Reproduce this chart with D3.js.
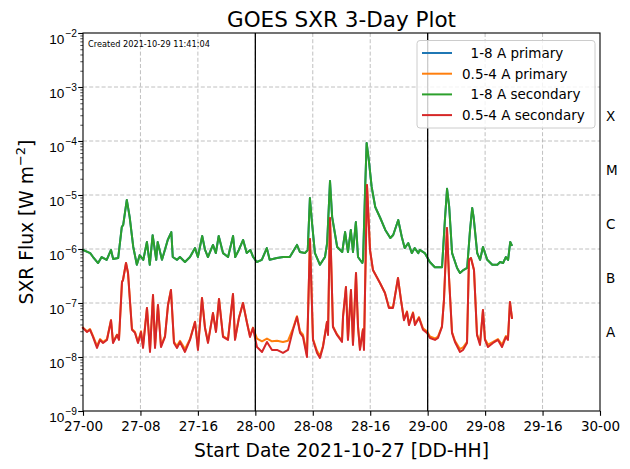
<!DOCTYPE html>
<html>
<head>
<meta charset="utf-8">
<script src="https://cdn.jsdelivr.net/npm/d3@7"></script>
<style>
    body { margin: 0; background: #fff; }
    svg { display: block; font-family: "DejaVu Sans", sans-serif; }
</style>
</head>
<body>
<svg id="chart" width="630" height="469"></svg>
<script>
// hours since 2021-10-27 00:00 UT
const timeLong = [0.0,1.0,1.4,2.1,2.6,3.3,3.9,4.2,4.9,5.4,
    5.6,6.1,6.5,7.0,7.5,7.9,8.4,8.9,9.3,9.7,
    10.2,10.4,11.0,11.4,11.8,12.3,12.5,13.1,13.5,14.2,
    14.9,15.6,16.0,16.6,17.0,17.4,18.1,18.5,18.9,19.5,
    20.2,20.9,21.2,21.7,22.3,22.8,23.3,23.7,24.2,24.9,
    25.6,26.0,27.0,27.9,28.8,29.8,30.2,30.9,31.3,31.6,
    31.9,32.3,33.0,33.7,34.0,34.4,34.7,35.4,36.1,36.5,
    36.9,37.3,37.6,38.0,38.3,38.9,39.0,39.3,39.5,39.8,
    40.2,40.7,41.4,42.1,42.8,43.2,43.9,44.4,44.8,45.3,
    45.8,46.2,46.7,46.9,47.6,48.3,49.0,50.0,50.4,50.7,
    51.0,51.4,52.1,52.5,52.9,53.5,53.9,54.2,54.4,54.9,
    55.3,55.7,56.3,57.0,57.7,58.1,58.5,58.9,59.2,59.5,59.7];

// 1-8 A channel, W m^-2
const fluxLongSecondary = [9.6e-7,8.4e-7,7.1e-7,5.5e-7,7.1e-7,6.3e-7,9.6e-7,6.5e-7,6.8e-7,2.55e-6,
    2.8e-6,8.1e-6,3.9e-6,1.09e-6,5.1e-7,7.7e-7,6.3e-7,1.35e-6,5.1e-7,1.8e-6,
    6.3e-7,1.35e-6,6.3e-7,9.6e-7,1.47e-6,2.06e-6,7.1e-7,6.3e-7,7.1e-7,5.75e-7,
    7.1e-7,1.04e-6,7.1e-7,1.74e-6,9.6e-7,7.1e-7,1.19e-6,8.4e-7,1.74e-6,8.4e-7,
    7.1e-7,1.74e-6,7.1e-7,9.6e-7,1.47e-6,8.4e-7,9.6e-7,7.1e-7,5.75e-7,6.3e-7,
    1.04e-6,6.3e-7,6.8e-7,7.1e-7,7.1e-7,1.19e-6,8.8e-7,8.4e-7,9.6e-7,8.8e-6,
    3.0e-6,8.4e-7,5.1e-7,7.1e-7,1.29e-6,1.82e-5,3.9e-6,1.09e-6,8.8e-7,2.06e-6,
    8.8e-7,2.25e-6,8.8e-7,3.16e-6,7.1e-7,5.5e-7,6.3e-7,1.41e-5,9.2e-5,4.45e-5,
    1.41e-5,6.0e-6,3.75e-6,2.25e-6,1.6e-6,1.82e-6,3.44e-6,1.67e-6,1.04e-6,1.29e-6,
    8.4e-7,1.04e-6,8.4e-7,9.6e-7,8.4e-7,5.75e-7,4.6e-7,4.6e-7,3.44e-6,1.3e-5,
    6.0e-6,8.4e-7,4.45e-7,3.6e-7,4.0e-7,4.45e-7,2.25e-6,5.75e-6,3.9e-6,8.4e-7,
    6.3e-7,1.09e-6,6.3e-7,5.1e-7,5.1e-7,5.75e-7,5.5e-7,7.1e-7,6.3e-7,1.35e-6,1.19e-6];
// primary 1-8 A reads the same as secondary on the plot
const fluxLongPrimary = fluxLongSecondary;

const timeShort = [0,0.56,0.97,1.39,1.95,2.37,2.79,3.34,3.9,4.18,
    4.74,5.01,5.43,5.57,5.99,6.27,6.82,7.24,7.66,8.08,
    8.36,8.91,9.33,9.75,10.03,10.44,10.86,11.42,11.84,12.25,
    12.67,13.09,13.51,14.2,14.9,15.6,16.01,16.57,16.99,17.41,
    18.1,18.52,18.94,19.5,20.19,20.89,21.17,21.72,22.28,22.84,
    23.26,23.67,24.23,24.93,25.62,26.32,27.02,27.85,28.55,29.25,
    29.8,30.22,30.64,31.19,31.61,32.03,32.59,33.0,33.42,33.98,
    34.12,34.4,34.81,35.37,36.07,36.21,36.62,36.9,37.32,37.6,
    38.02,38.3,38.57,38.99,39.13,39.55,39.97,40.38,41.36,42.05,
    42.61,43.17,43.87,44.28,44.7,45.12,45.4,45.96,46.23,46.79,
    47.35,47.9,48.32,49.02,49.44,49.99,50.27,50.69,50.97,51.39,
    51.8,52.5,52.92,53.48,53.75,54.03,54.45,54.87,55.29,55.7,
    55.98,56.4,57.1,57.79,58.35,58.9,59.18,59.46,59.74];

// 0.5-4 A channel, W m^-2
const fluxShortSecondary = [3.44e-8,2.9e-8,3.2e-8,2.35e-8,1.47e-8,2.07e-8,1.82e-8,2.07e-8,4.8e-8,1.82e-8,
    2.56e-8,2.07e-8,2.45e-7,2.67e-7,5.5e-7,3.6e-7,3.2e-8,2.8e-8,1.82e-8,2.9e-8,
    1.47e-8,8.1e-8,1.24e-8,1.41e-7,1.47e-8,9.2e-8,1.53e-8,2.35e-8,9.2e-8,1.74e-7,
    1.82e-8,1.47e-8,1.9e-8,1.24e-8,2.07e-8,4.45e-8,1.35e-8,1.24e-7,3.44e-8,1.82e-8,
    6.5e-8,2.9e-8,1.19e-7,2.35e-8,2.07e-8,1.47e-7,2.07e-8,5.3e-8,1e-7,4.26e-8,
    2.35e-8,3.44e-8,1.53e-8,1.24e-8,1.9e-8,1.35e-8,1.35e-8,1.19e-8,1.35e-8,3.2e-8,
    5.5e-8,2.8e-8,2.35e-8,1e-8,1.53e-6,2.07e-8,1.19e-8,9.6e-9,1.53e-8,4.45e-8,
    2.56e-8,3.75e-6,3.6e-8,2.56e-8,1.9e-8,5.5e-8,1.98e-7,2.07e-8,1.74e-7,1.67e-8,
    3.6e-7,3.6e-8,1.35e-8,3.2e-8,1.35e-8,1.53e-5,9.6e-7,4.1e-7,2.35e-7,1.53e-7,
    8.1e-8,8.1e-8,2.9e-7,1.14e-7,4.8e-8,6.8e-8,3.9e-8,6.5e-8,3.9e-8,5.3e-8,
    3.2e-8,2.8e-8,2.25e-8,2.07e-8,2.25e-8,3.6e-8,1.14e-7,2.45e-6,3.03e-7,2.8e-8,
    1.9e-8,1.24e-8,1.35e-8,1.82e-8,6.25e-7,6.8e-7,4.1e-7,2.56e-8,1.67e-8,7.4e-8,
    2.07e-8,1.53e-8,1.82e-8,2.07e-8,1.53e-8,2.35e-8,2.07e-8,1.04e-7,5.3e-8];

const fluxShortPrimary = [3.5e-8,3.0e-8,3.3e-8,2.45e-8,1.6e-8,2.15e-8,1.9e-8,2.15e-8,4.8e-8,1.9e-8,
    2.6e-8,2.15e-8,2.45e-7,2.67e-7,5.5e-7,3.6e-7,3.3e-8,2.9e-8,1.9e-8,3.0e-8,
    1.6e-8,8.1e-8,1.35e-8,1.41e-7,1.55e-8,9.2e-8,1.6e-8,2.45e-8,9.2e-8,1.74e-7,
    1.9e-8,1.6e-8,2.0e-8,1.4e-8,2.15e-8,4.5e-8,1.45e-8,1.24e-7,3.5e-8,1.9e-8,
    6.5e-8,3.0e-8,1.19e-7,2.45e-8,2.15e-8,1.47e-7,2.15e-8,5.4e-8,1e-7,4.3e-8,
    2.45e-8,3.5e-8,2.2e-8,1.95e-8,2.2e-8,1.95e-8,2.0e-8,1.9e-8,2.0e-8,3.4e-8,
    5.7e-8,3.0e-8,2.6e-8,1.1e-8,1.53e-6,2.15e-8,1.3e-8,1.05e-8,1.6e-8,4.5e-8,
    2.65e-8,3.75e-6,3.7e-8,2.65e-8,2.0e-8,5.5e-8,1.98e-7,2.15e-8,1.74e-7,1.75e-8,
    3.6e-7,3.7e-8,1.45e-8,3.3e-8,1.45e-8,1.53e-5,9.6e-7,4.1e-7,2.35e-7,1.55e-7,
    8.3e-8,8.3e-8,2.9e-7,1.16e-7,5.0e-8,7.0e-8,4.1e-8,6.7e-8,4.1e-8,5.5e-8,
    3.4e-8,3.0e-8,2.4e-8,2.2e-8,2.4e-8,3.7e-8,1.14e-7,2.45e-6,3.03e-7,2.9e-8,
    2.0e-8,1.4e-8,1.5e-8,1.9e-8,6.25e-7,6.8e-7,4.1e-7,2.65e-8,1.8e-8,7.4e-8,
    2.15e-8,1.7e-8,1.9e-8,2.15e-8,1.7e-8,2.45e-8,2.15e-8,1.04e-7,5.3e-8];

const seriesNames = ["  1-8 A primary", "0.5-4 A primary", "  1-8 A secondary", "0.5-4 A secondary"];
const seriesColors = ["#1f77b4", "#ff7f0e", "#2ca02c", "#d62728"];

const hourTicks = [0, 8, 16, 24, 32, 40, 48, 56, 64, 72];
const dayLines = [24, 48];
const decadeTicks = [1e-9, 1e-8, 1e-7, 1e-6, 1e-5, 1e-4, 1e-3, 1e-2];
const flareClasses = ["A", "B", "C", "M", "X"];
const flareClassFlux = [3e-8, 3e-7, 3e-6, 3e-5, 3e-4];

const sxrPlot = {
    init: function() {
        this.svg = d3.select("#chart");
        this.margin = {top: 33, right: 30, bottom: 58, left: 83};
        this.width = 630 - this.margin.left - this.margin.right;
        this.height = 469 - this.margin.top - this.margin.bottom;
    },
    render: function() {
        const svg = this.svg,
            m = this.margin,
            w = this.width,
            h = this.height;
        svg.selectAll("*").remove();

        const x = d3.scaleLinear().domain([0, 72]).range([0, w]),
            y = d3.scaleLog().domain([1e-9, 1e-2]).range([h, 0]);

        const chart = svg.append("g")
            .attr("transform", `translate(${m.left},${m.top})`);

        // grid
        chart.append("g").selectAll("line.hgrid")
            .data(decadeTicks.slice(1, -1))
            .join("line")
                .attr("x1", 0).attr("x2", w)
                .attr("y1", d => y(d)).attr("y2", d => y(d))
                .style("stroke", "#b0b0b0")
                .style("stroke-width", 0.8)
                .style("stroke-dasharray", "4,2.2");
        chart.append("g").selectAll("line.vgrid")
            .data(hourTicks.slice(1, -1))
            .join("line")
                .attr("x1", d => x(d)).attr("x2", d => x(d))
                .attr("y1", 0).attr("y2", h)
                .style("stroke", "#b0b0b0")
                .style("stroke-width", 0.8)
                .style("stroke-dasharray", "4,2.2");

        // data lines, same order as the legend
        const series = [
            {times: timeLong, flux: fluxLongPrimary},
            {times: timeShort, flux: fluxShortPrimary},
            {times: timeLong, flux: fluxLongSecondary},
            {times: timeShort, flux: fluxShortSecondary}
        ];
        const line = d3.line()
            .x(d => x(d[0]))
            .y(d => y(d[1]));
        chart.append("g").selectAll("path")
            .data(series)
            .join("path")
                .attr("d", s => line(d3.zip(s.times, s.flux)))
                .style("fill", "none")
                .style("stroke", (s, i) => seriesColors[i])
                .style("stroke-width", 2)
                .style("stroke-linejoin", "round")
                .style("stroke-linecap", "square");

        // day boundaries
        chart.append("g").selectAll("line")
            .data(dayLines)
            .join("line")
                .attr("x1", d => x(d)).attr("x2", d => x(d))
                .attr("y1", 0).attr("y2", h)
                .style("stroke", "black")
                .style("stroke-width", 1.3);

        // x axis
        const fmtHour = hr => `${27 + Math.floor(hr / 24)}-${String(hr % 24).padStart(2, "0")}`;
        const xAxis = chart.append("g")
            .attr("transform", `translate(0,${h})`)
            .call(d3.axisBottom(x).tickValues(hourTicks).tickFormat(fmtHour)
                .tickSize(4.8).tickPadding(5.5).tickSizeOuter(0));
        xAxis.select(".domain").remove();
        xAxis.selectAll("line").style("stroke-width", 1.1);
        xAxis.selectAll("text")
            .attr("font-family", "DejaVu Sans")
            .style("font-size", "13.5px")
            .style("fill", "black");

        // y axis: minor then major ticks
        const minor = [];
        decadeTicks.slice(0, -1).forEach(d => {
            for (let k = 2; k < 10; k++) minor.push(d * k);
        });
        const yMinor = chart.append("g")
            .call(d3.axisLeft(y).tickValues(minor).tickFormat("").tickSize(2.7).tickSizeOuter(0));
        yMinor.select(".domain").remove();
        yMinor.selectAll("line").style("stroke-width", 0.7);

        const yAxis = chart.append("g")
            .call(d3.axisLeft(y).tickValues(decadeTicks).tickFormat("").tickSize(4.8).tickSizeOuter(0));
        yAxis.select(".domain").remove();
        yAxis.selectAll("line").style("stroke-width", 1.1);
        yAxis.selectAll(".tick").each(function(d) {
            const t = d3.select(this).append("text")
                .attr("x", -6)
                .attr("y", 10.5)
                .attr("text-anchor", "end")
                .style("font-size", "13.6px")
                .style("fill", "black");
            t.append("tspan").text("10");
            t.append("tspan")
                .attr("dx", 1)
                .attr("dy", -7.5)
                .style("font-size", "10.2px")
                .text("\u2212" + Math.round(-Math.log10(d)));
        });

        // frame
        chart.append("rect")
            .attr("width", w)
            .attr("height", h)
            .style("fill", "none")
            .style("stroke", "black")
            .style("stroke-width", 1.1);

        // flare class letters on the right
        chart.append("g").selectAll("text")
            .data(flareClasses)
            .join("text")
                .attr("x", w + 6)
                .attr("y", (d, i) => y(flareClassFlux[i]) + 6)
                .style("font-size", "13.5px")
                .text(d => d);

        // created stamp
        chart.append("text")
            .attr("x", 5)
            .attr("y", 13.5)
            .style("font-size", "8.2px")
            .text("Created 2021-10-29 11:41:04");

        // legend
        const lg = chart.append("g")
            .attr("transform", `translate(${w - 183},7.5)`);
        lg.append("rect")
            .attr("width", 178)
            .attr("height", 87.5)
            .attr("rx", 3)
            .style("fill", "white")
            .style("fill-opacity", 0.8)
            .style("stroke", "#cccccc")
            .style("stroke-width", 1);
        const item = lg.selectAll("g.item")
            .data(seriesNames)
            .join("g")
                .attr("class", "item")
                .attr("transform", (d, i) => `translate(0,${12.5 + i * 20.7})`);
        item.append("line")
            .attr("x1", 5).attr("x2", 35)
            .style("stroke", (d, i) => seriesColors[i])
            .style("stroke-width", 2);
        item.append("text")
            .attr("x", 45)
            .attr("y", 5)
            .style("font-size", "13.5px")
            .style("white-space", "pre")
            .text(d => d);

        // titles
        svg.append("text")
            .attr("x", m.left + w / 2)
            .attr("y", 26.5)
            .attr("text-anchor", "middle")
            .style("font-size", "21.5px")
            .text("GOES SXR 3-Day Plot");

        svg.append("text")
            .attr("x", m.left + w / 2)
            .attr("y", 456.5)
            .attr("text-anchor", "middle")
            .style("font-size", "18.7px")
            .text("Start Date 2021-10-27 [DD-HH]");

        const yl = svg.append("text")
            .attr("transform", `translate(32.5,${m.top + h / 2}) rotate(-90)`)
            .attr("text-anchor", "middle")
            .style("font-size", "18.7px");
        yl.append("tspan").text("SXR Flux [W m");
        yl.append("tspan").attr("dy", -8).style("font-size", "13px").text("\u22122");
        yl.append("tspan").attr("dy", 8).text("]");
    }
};

sxrPlot.init();
sxrPlot.render();
</script>
</body>
</html>
